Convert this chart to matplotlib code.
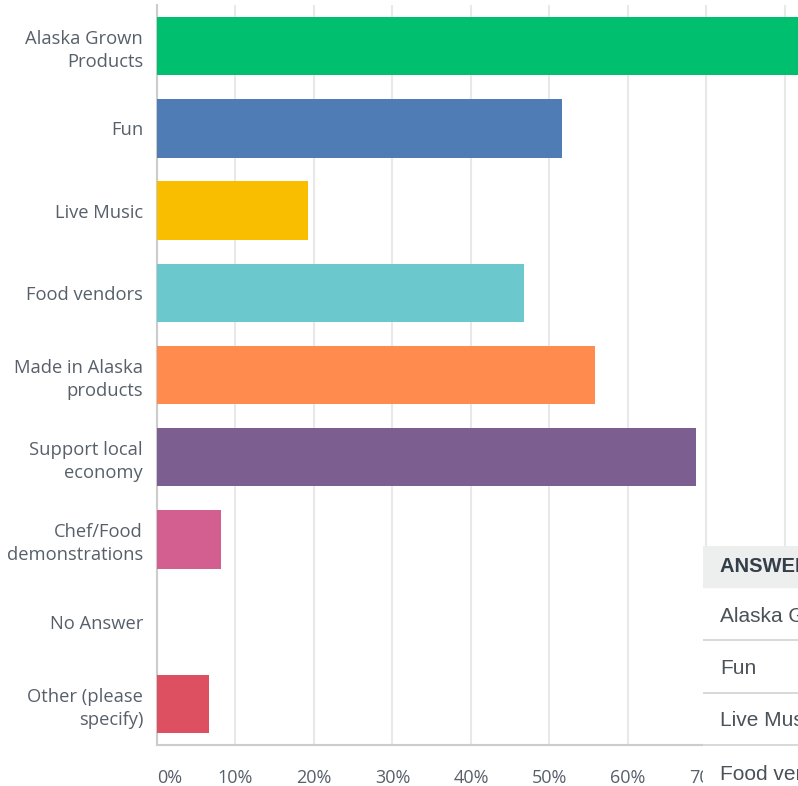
import matplotlib.pyplot as plt
from matplotlib.patches import Rectangle

# survey results: share of respondents (%) per answer
answers = ['Alaska Grown\nProducts', 'Fun', 'Live Music', 'Food vendors',
           'Made in Alaska\nproducts', 'Support local\neconomy',
           'Chef/Food\ndemonstrations', 'No Answer', 'Other (please\nspecify)']
shares = [87.0, 51.6, 19.3, 46.8, 55.8, 68.7, 8.2, 0.0, 6.6]
colors = ['#00bf6f', '#507cb6', '#f9be00', '#6bc8cd', '#ff8b4f',
          '#7d5e90', '#d25f90', '#c3c7c9', '#dd5062']
ticks = [0, 10, 20, 30, 40, 50, 60, 70, 80]
table_rows = ['Alaska Grown Products', 'Fun', 'Live Music', 'Food vendors']

W, H = 798, 786
fig = plt.figure(figsize=(W / 100, H / 100), dpi=100)
text_color = '#57606a'

ax = fig.add_axes([157 / W, 41 / H, 1 - 157 / W, (745 - 5) / H])
y = list(range(len(answers)))
ax.barh(y, shares, height=0.71, color=colors, zorder=3)
ax.set_ylim(len(answers) - 0.5, -0.5)
ax.set_xlim(0, 81.66)

ax.set_xticks(ticks)
ax.set_xticklabels([f'{t}%' for t in ticks])
ax.tick_params(axis='x', length=0, pad=17, labelsize=13, labelcolor=text_color)
xl = ax.get_xticklabels()
xl[0].set_horizontalalignment('left')
ax.set_yticks(y)
ax.set_yticklabels(answers, fontsize=13.2, color=text_color, linespacing=1.35,
                   multialignment='right')
ax.tick_params(axis='y', length=0, pad=10)
for lab in ax.get_xticklabels() + ax.get_yticklabels():
    lab.set_family('Open Sans')

ax.grid(axis='x', color='#e8e8e8', linewidth=1.5, zorder=0)
for side in ['top', 'right']:
    ax.spines[side].set_visible(False)
for side in ['left', 'bottom']:
    ax.spines[side].set_color('#cccccc')
    ax.spines[side].set_linewidth(1.5)

# answer table panel overlapping the lower right corner
tab = fig.add_axes([703 / W, 0, 1 - 703 / W, 240 / H])
tab.set_zorder(5)
tab.set_facecolor('white')
tab.set_xlim(0, 95)
tab.set_ylim(240, 0)
tab.set_xticks([])
tab.set_yticks([])
for s in tab.spines.values():
    s.set_visible(False)
tab.add_patch(Rectangle((0, 0), 95, 41, color='#edeeee'))
tab.text(17, 21, 'ANSWER CHOICES', fontsize=14.5, fontweight='bold',
         color='#333e48', va='center', family='Liberation Sans')
row_y = [71, 122, 175, 229]
for ry, name in zip(row_y, table_rows):
    tab.text(17, ry, name, fontsize=15, color='#4a5258', va='center',
             family='Liberation Sans')
for ly in [94, 147, 199]:
    tab.plot([0, 95], [ly, ly], color='#d4d6d7', linewidth=1.3)

fig.savefig('out.png', dpi=100)
